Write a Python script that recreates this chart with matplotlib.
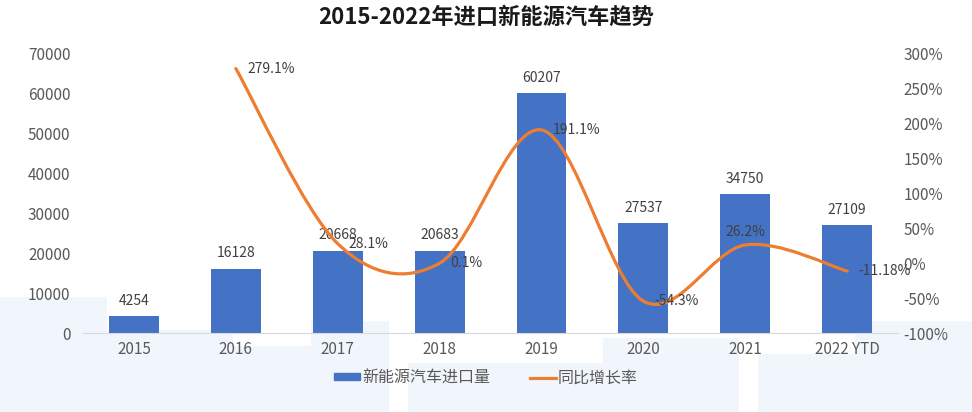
import numpy as np
import matplotlib
matplotlib.use('Agg')
import matplotlib.pyplot as plt
from matplotlib.path import Path
from matplotlib.patches import PathPatch, Rectangle
from matplotlib.lines import Line2D

plt.rcParams['font.family'] = ['Noto Sans CJK SC', 'DejaVu Sans']

# data
years = ['2015', '2016', '2017', '2018', '2019', '2020', '2021', '2022 YTD']
imports = [4254, 16128, 20668, 20683, 60207, 27537, 34750, 27109]
growth = [None, 279.1, 28.1, 0.1, 191.1, -54.3, 26.2, -11.18]
growth_labels = ['', '279.1%', '28.1%', '0.1%', '191.1%', '-54.3%', '26.2%', '-11.18%']

bar_color = '#4472C4'
line_color = '#ED7D31'
tick_color = '#595959'

fig = plt.figure(figsize=(9.72, 4.12), dpi=100)

# faint background watermark blocks
for (x0, y0, w, h) in [(0.0, 0.0, 0.11, 0.28), (0.08, 0.0, 0.16, 0.2), (0.22, 0.0, 0.18, 0.16),
                       (0.42, 0.0, 0.2, 0.12), (0.62, 0.0, 0.14, 0.18), (0.78, 0.0, 0.1, 0.14),
                       (0.88, 0.0, 0.12, 0.22), (0.32, 0.05, 0.08, 0.17), (0.15, 0.02, 0.1, 0.07)]:
    fig.patches.append(Rectangle((x0, y0), w, h, transform=fig.transFigure,
                                 facecolor='#f1f6fd', edgecolor='none', zorder=-10))

ax = fig.add_axes([0.0854, 0.1917, 0.8386, 0.6773])
ax.patch.set_alpha(0)
x = np.arange(len(years))
bars = ax.bar(x, imports, width=0.49, color=bar_color, zorder=2)
for xi, v in zip(x, imports):
    ax.annotate(str(v), (xi, v), xytext=(0, 6), textcoords='offset points',
                ha='center', va='bottom', fontsize=10, color='#404040')

ax.set_xlim(-0.5, len(years) - 0.5)
ax.set_ylim(0, 70000)
ax.set_yticks(range(0, 70001, 10000))
ax.set_xticks(x)
ax.set_xticklabels(years)
ax.tick_params(axis='both', length=0, colors=tick_color, labelsize=11)
ax.tick_params(axis='y', pad=9)
ax.tick_params(axis='x', pad=6)
for s in ['top', 'right', 'left']:
    ax.spines[s].set_visible(False)
ax.spines['bottom'].set_color('#d9d9d9')

ax2 = ax.twinx()
ax2.set_ylim(-100, 300)
ax2.set_yticks(range(-100, 301, 50))
ax2.set_yticklabels([f'{t}%' for t in range(-100, 301, 50)])
ax2.tick_params(axis='y', length=0, colors=tick_color, labelsize=11, pad=4)
for s in ax2.spines.values():
    s.set_visible(False)

# smoothed line (Catmull-Rom as cubic Bezier, like Excel's smoothed line)
px = [xi for xi, g in zip(x, growth) if g is not None]
py = [g for g in growth if g is not None]
pts = np.column_stack([px, py]).astype(float)
verts = [tuple(pts[0])]
codes = [Path.MOVETO]
n = len(pts)
for i in range(n - 1):
    p0 = pts[i - 1] if i > 0 else pts[i]
    p1 = pts[i]
    p2 = pts[i + 1]
    p3 = pts[i + 2] if i + 2 < n else pts[i + 1]
    c1 = p1 + (p2 - p0) / 6
    c2 = p2 - (p3 - p1) / 6
    verts += [tuple(c1), tuple(c2), tuple(p2)]
    codes += [Path.CURVE4] * 3
ax2.add_patch(PathPatch(Path(verts, codes), facecolor='none', edgecolor=line_color,
                        lw=2.3, zorder=3, capstyle='round'))

for xi, g, lab in zip(x, growth, growth_labels):
    if g is None:
        continue
    if lab == '26.2%':
        ax2.annotate(lab, (xi, g), xytext=(0, 4), textcoords='offset points',
                     ha='center', va='bottom', fontsize=10, color='#404040')
    else:
        ax2.annotate(lab, (xi, g), xytext=(8, 0), textcoords='offset points',
                     ha='left', va='center', fontsize=10, color='#404040')

fig.suptitle('2015-2022年进口新能源汽车趋势', x=0.5, y=0.985, fontsize=16,
             fontweight='bold', color='#1a1a1a')

handles = [Rectangle((0, 0), 1, 1, color=bar_color),
           Line2D([0], [0], color=line_color, lw=2.3)]
fig.legend(handles, ['新能源汽车进口量', '同比增长率'], loc='center',
           bbox_to_anchor=(0.5, 0.083), ncol=2, frameon=False, fontsize=11.5,
           labelcolor=tick_color, handlelength=1.6, handleheight=0.35,
           columnspacing=2.5, handletextpad=0.15)

fig.savefig('out.png', dpi=100)
